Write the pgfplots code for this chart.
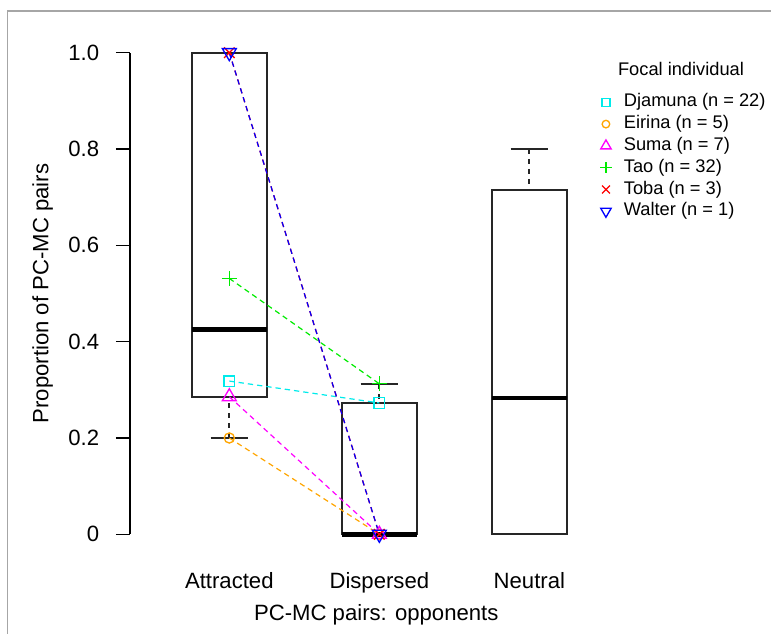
\documentclass[border=0pt]{standalone}
\usepackage{pgfplots}
\pgfplotsset{compat=1.18}
\usepgfplotslibrary{statistics}
\usepackage{fontspec}
\setmainfont{Liberation Sans}

\definecolor{cDjamuna}{RGB}{0,235,235}
\definecolor{cEirina}{RGB}{255,165,0}
\definecolor{cSuma}{RGB}{255,0,255}
\definecolor{cTao}{RGB}{0,235,0}
\definecolor{cToba}{RGB}{255,0,0}
\definecolor{cWalter}{RGB}{0,0,255}

\newcommand\axfont{\fontsize{16.6pt}{19pt}\selectfont}
\newcommand\legfont{\fontsize{13.7pt}{16pt}\selectfont}

\tikzset{
  rdash/.style={dash pattern=on 4pt off 3pt},
  wdash/.style={dash pattern=on 4pt off 3.5pt},
}

\begin{document}
\begin{tikzpicture}
\useasboundingbox (0pt,0pt) rectangle (578.25pt,475.5pt);
% window frame
\draw[black!35, line width=1.4pt] (5.6pt,0pt) -- (5.6pt,467.5pt) -- (578.25pt,467.5pt);

\begin{axis}[
  at={(97.5pt,60.3pt)}, anchor=south west,
  scale only axis, width=369.4pt, height=390.15pt,
  xmin=0.338, xmax=3.621, ymin=-0.04, ymax=1.04,
  clip=false,
  axis line style={draw=none},
  tick align=outside,
  major tick length=10.5pt,
  xtick={1,2,3}, xticklabels={Attracted,Dispersed,Neutral},
  xtick style={draw=none},
  xtick pos=bottom, ytick pos=left,
  ytick={0,0.2,0.4,0.6,0.8,1}, yticklabels={0,0.2,0.4,0.6,0.8,1.0},
  ytick style={black, line width=1.1pt},
  /pgf/number format/assume math mode=true,
  tick label style={font=\axfont},
  yticklabel style={anchor=east, inner sep=0pt, xshift=-12.4pt},
  xticklabel style={anchor=base, inner sep=0pt, yshift=-16pt},
  label style={font=\axfont},
  xlabel={PC-MC pairs: opponents},
  ylabel={Proportion of PC-MC pairs},
  xlabel style={at={(axis description cs:0.5,-0.1290)}, anchor=base, inner sep=0pt},
  ylabel style={at={(axis description cs:-0.1657,0.5)}, anchor=base, inner sep=0pt},
  boxplot/draw direction=y,
  boxplot/every median/.style={line width=3.5pt, black},
  boxplot/draw/lower whisker/.code={%
    \draw[wdash] (boxplot cs:\pgfplotsboxplotvalue{lower whisker}) -- (boxplot cs:\pgfplotsboxplotvalue{lower quartile});
    \draw[solid] (boxplot whisker cs:\pgfplotsboxplotvalue{lower whisker},0) -- (boxplot whisker cs:\pgfplotsboxplotvalue{lower whisker},1);
  },
  boxplot/draw/upper whisker/.code={%
    \draw[wdash] (boxplot cs:\pgfplotsboxplotvalue{upper whisker}) -- (boxplot cs:\pgfplotsboxplotvalue{upper quartile});
    \draw[solid] (boxplot whisker cs:\pgfplotsboxplotvalue{upper whisker},0) -- (boxplot whisker cs:\pgfplotsboxplotvalue{upper whisker},1);
  },
  legend style={at={(axis description cs:0.9456,0.8856)}, anchor=north west,
    draw=none, fill=none, inner xsep=0pt, inner ysep=0pt,
    font=\legfont, row sep=2.65pt, column sep=6pt,
    nodes={inner sep=0pt, text height=10.3pt, text depth=3.4pt}},
  legend cell align=left,
  legend image code/.code={%
    \path (-7pt,0pt) (7pt,0pt);
    \draw[#1, solid, /tikz/every mark/.append style={scale=0.75}] plot coordinates {(0pt,0pt)};
  },
]
% y axis line spans the tick range only
\draw[black, line width=1.1pt] (axis cs:0.338,0) -- (axis cs:0.338,1);

% boxes (Tukey hinges of the six individual proportions)
\addplot[black!85, line width=1.35pt, forget plot, boxplot prepared={
  draw position=1, lower whisker=0.2, lower quartile=0.2857,
  median=0.4247, upper quartile=1.0, upper whisker=1.0,
  box extend=0.5, whisker extend=0.25}] coordinates {};
\addplot[black!85, line width=1.35pt, forget plot, boxplot prepared={
  draw position=2, lower whisker=0, lower quartile=0,
  median=0, upper quartile=0.2727, upper whisker=0.3125,
  box extend=0.5, whisker extend=0.25}] coordinates {};
\addplot[black!85, line width=1.35pt, forget plot, boxplot prepared={
  draw position=3, lower whisker=0, lower quartile=0,
  median=0.2827, upper quartile=0.7143, upper whisker=0.8,
  box extend=0.5, whisker extend=0.25}] coordinates {};

% individual trajectories
\addplot[cDjamuna, rdash, line width=0.9pt, mark=square, mark size=3.9pt,
  mark options={solid, line width=1pt}] coordinates {(1,0.3182) (2,0.2727)};
\addlegendentry{Djamuna (n = 22)}
\addplot[cEirina, rdash, line width=0.9pt, mark=o, mark size=3.8pt,
  mark options={solid, line width=1pt}] coordinates {(1,0.2) (2,0)};
\addlegendentry{Eirina (n = 5)}
\addplot[cSuma, rdash, line width=0.9pt, mark=triangle, mark size=6pt,
  mark options={solid, line width=1pt}] coordinates {(1,0.2857) (2,0)};
\addlegendentry{Suma (n = 7)}
\addplot[cTao, rdash, line width=0.9pt, mark=+, mark size=5.6pt,
  mark options={solid, line width=1pt}] coordinates {(1,0.5313) (2,0.3125)};
\addlegendentry{Tao (n = 32)}
\addplot[cToba, rdash, line width=0.9pt, mark=x, mark size=5.6pt,
  mark options={solid, line width=1pt}] coordinates {(1,1) (2,0)};
\addlegendentry{Toba (n = 3)}
\addplot[cWalter, rdash, line width=0.9pt, mark=triangle, mark size=6pt,
  mark options={solid, line width=1pt, rotate=180}] coordinates {(1,1) (2,0)};
\addlegendentry{Walter (n = 1)}
\end{axis}

\node[font=\legfont, anchor=base, inner sep=0pt] at (510.75pt,418.5pt) {Focal individual};
\end{tikzpicture}
\end{document}
